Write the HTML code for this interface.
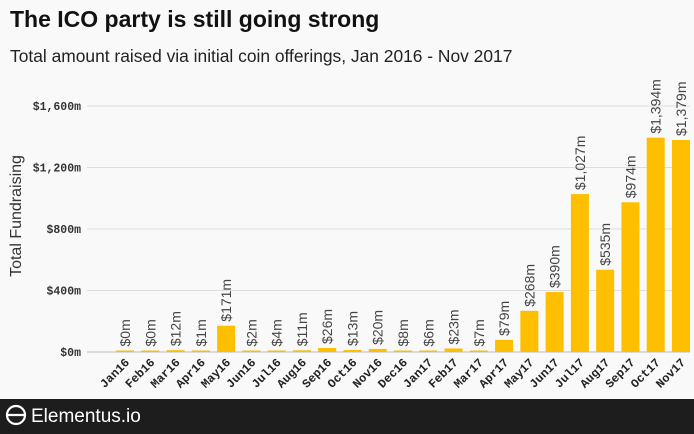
<!DOCTYPE html>
<html><head><meta charset="utf-8"><style>
body{margin:0;width:694px;height:434px;background:#f9f9f9;font-family:"Liberation Sans",sans-serif;overflow:hidden;position:relative}
#title{position:absolute;left:10px;top:6px;font-size:23px;font-weight:bold;color:#111}
#sub{position:absolute;left:10px;top:46px;font-size:17.4px;color:#222}
#footer{position:absolute;left:0;top:399px;width:694px;height:35px;background:#1d1d1d;color:#fff}
svg{position:absolute;left:0;top:0}
</style></head><body>
<div id="title">The ICO party is still going strong</div>
<div id="sub">Total amount raised via initial coin offerings, Jan 2016 - Nov 2017</div>
<svg id="chart" width="694" height="400"></svg>
<div id="footer">
<svg width="200" height="35"><circle cx="16" cy="16" r="9" fill="none" stroke="#fff" stroke-width="2.2"/><line x1="7" y1="16" x2="25" y2="16" stroke="#fff" stroke-width="2.2"/><text x="31" y="23" fill="#fff" font-size="19" font-family="Liberation Sans,sans-serif">Elementus.io</text></svg>
</div>
<script>
const categories=["Jan16","Feb16","Mar16","Apr16","May16","Jun16","Jul16","Aug16","Sep16","Oct16","Nov16","Dec16","Jan17","Feb17","Mar17","Apr17","May17","Jun17","Jul17","Aug17","Sep17","Oct17","Nov17"];
const values=[0,0,12,1,171,2,4,11,26,13,20,8,6,23,7,79,268,390,1027,535,974,1394,1379];
const labels=["$0m","$0m","$12m","$1m","$171m","$2m","$4m","$11m","$26m","$13m","$20m","$8m","$6m","$23m","$7m","$79m","$268m","$390m","$1,027m","$535m","$974m","$1,394m","$1,379m"];
const ticks=[0,400,800,1200,1600];
const tickLabels=["$0m","$400m","$800m","$1,200m","$1,600m"];
const svg=document.getElementById('chart');const NS='http://www.w3.org/2000/svg';
const y0=352,yTop=106,bandL=112.4,bandW=25.27,barW=18;
const y=v=>y0-(v/1600)*(y0-yTop);
const x=i=>bandL+bandW*(i+0.5);
function mk(t,a,p){const e=document.createElementNS(NS,t);for(const k in a)e.setAttribute(k,a[k]);(p||svg).appendChild(e);return e;}
ticks.forEach((t,i)=>{
 const g=mk('line',{x1:87,x2:690,y1:y(t),y2:y(t),stroke:t===0?'#bbb':'#ddd','stroke-width':1});
 
 
 const l=mk('text',{x:81,y:y(t)+4,'text-anchor':'end','font-size':11.5,'font-weight':'bold','font-family':'Liberation Mono,monospace',fill:'#333'});
 l.textContent=tickLabels[i];
 
 
});
const yt=mk('text',{transform:'translate(21,216) rotate(-90)','text-anchor':'middle','font-size':16,fill:'#333'});
yt.textContent='Total Fundraising';


values.forEach((v,i)=>{
 const cx=x(i);
 const top=y(v);
 const r=mk('rect',{x:cx-barW/2,y:Math.min(top,y0-1.5),width:barW,height:Math.max(y0-top,1.5),fill:'#fdbf00'});
 
 
 const vl=mk('text',{transform:`translate(${cx+5},${Math.min(top,y0-1.5)-4}) rotate(-90)`,'font-size':14,fill:'#444'});
 vl.textContent=labels[i];
 
 
 const xl=mk('text',{transform:`translate(${cx+5},${y0+11}) rotate(-45)`,'text-anchor':'end','font-size':12,'font-weight':'bold','font-family':'Liberation Mono,monospace',fill:'#222'});
 xl.textContent=categories[i];
 
 
});
</script>
</body></html>
